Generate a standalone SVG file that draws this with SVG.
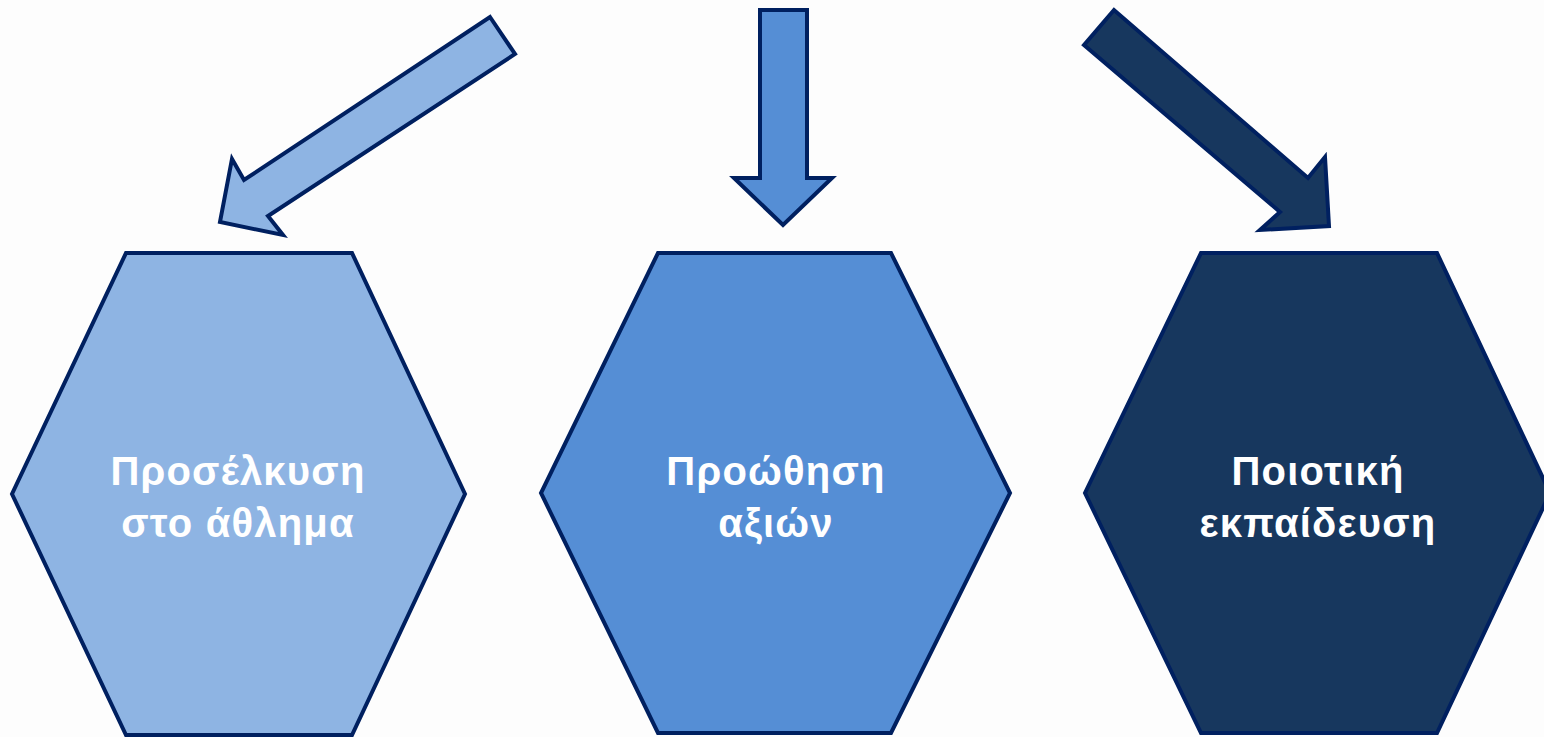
<svg xmlns="http://www.w3.org/2000/svg" width="1544" height="737" viewBox="0 0 1544 737">
<style>
.sh{stroke:#002060;stroke-width:4;stroke-linejoin:miter}
.c1{fill:#8EB4E3}.c2{fill:#558ED5}.c3{fill:#17375E}
.t{font-family:"Liberation Sans",Arial,sans-serif;font-weight:bold;font-size:40px;fill:#FFFFFF;text-anchor:middle;letter-spacing:1.2px}
</style>
<rect width="1544" height="737" fill="#FDFDFD"/>
<g id="connectors">
<polygon class="sh c1" points="490,17 515,54 268,216 283,235 220,222 232,159 244,180"/>
<polygon class="sh c2" points="760,10 807,10 807,178 832,178 783,225 734,178 760,178"/>
<polygon class="sh c3" points="1114,10 1084,45 1280,212 1260,230 1329,226 1325,157 1308,178"/>
</g>
<g id="node1">
<polygon class="sh c1" points="126,253 352,253 465,494 352,735 126,735 12,494"/>
<text class="t" x="238" y="485">Προσέλκυση</text>
<text class="t" x="238" y="537">στο άθλημα</text>
</g>
<g id="node2">
<polygon class="sh c2" points="658,253 891,253 1010,493 891,733 658,733 541,493"/>
<text class="t" x="776" y="485">Προώθηση</text>
<text class="t" x="776" y="537">αξιών</text>
</g>
<g id="node3">
<polygon class="sh c3" points="1201,253 1437,253 1550,493 1437,733 1201,733 1085,493"/>
<text class="t" x="1318" y="485">Ποιοτική</text>
<text class="t" x="1318" y="537">εκπαίδευση</text>
</g>
</svg>
